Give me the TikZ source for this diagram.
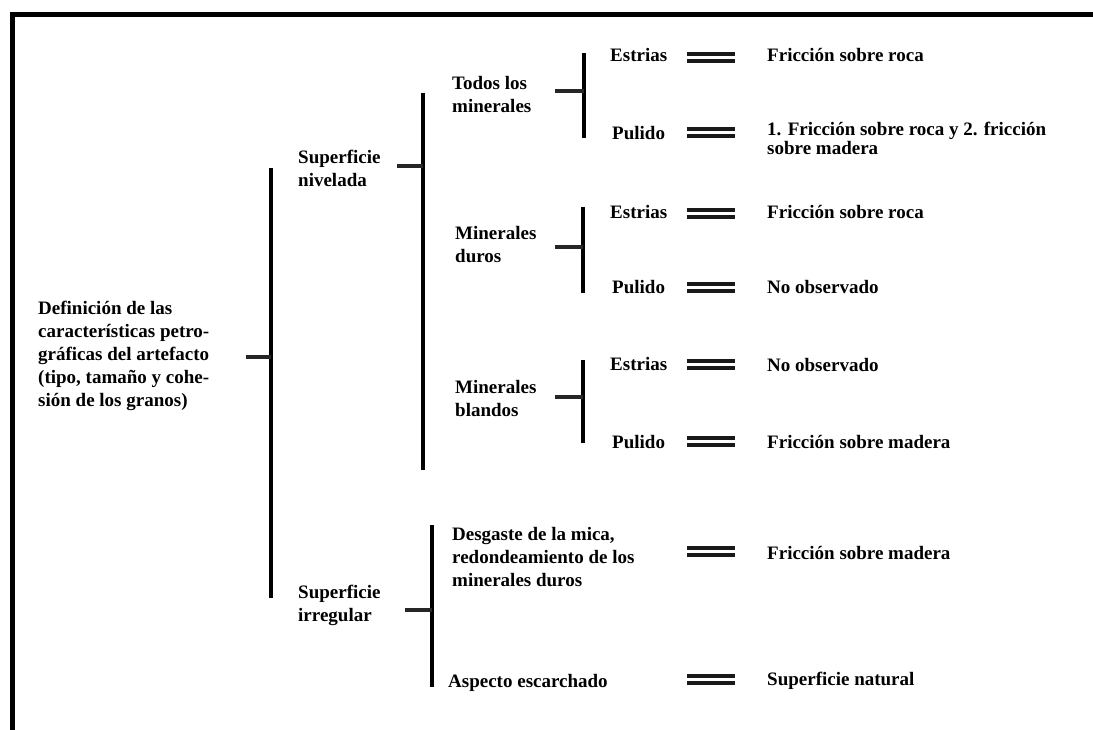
\documentclass[tikz,border=0pt]{standalone}
\usepackage{fontspec}
\setmainfont{Liberation Serif}
\begin{document}
\begin{tikzpicture}[x=1pt,y=-1pt,
  lbl/.style={anchor=west,inner sep=0pt,align=left,font=\fontsize{19}{23}\selectfont\bfseries},
  res/.style={anchor=west,inner sep=0pt,align=left,font=\fontsize{19}{19}\selectfont\bfseries},
  bar/.style={line width=4.5pt},
  stub/.style={line width=4pt,black!85},
  eqbar/.style={line width=4pt,double=white,double distance=3pt,black!90},
  frame/.style={line width=5pt}]
\useasboundingbox (0,0) rectangle (1093,730);
% frame
\coordinate (fbl) at (12,730);
\coordinate (ftl) at (12,15);
\coordinate (ftr) at (1093,15);
\draw[frame] (fbl) -- (ftl) -- (ftr);

% root
\node[lbl] (root) at (38,356) {Definición de las\\características petro-\\gráficas del artefacto\\(tipo, tamaño y cohe-\\sión de los granos)};
\coordinate (s1) at (246,357);
\coordinate (b1t) at (271,168);
\coordinate (b1b) at (271,598);
\draw[bar] (b1t) -- (b1b);
\draw[stub] (s1) -- (s1 -| b1t);

% level 1
\node[lbl] (sn) at (298,168) {Superficie\\nivelada};
\node[lbl] (si) at (298,605) {Superficie\\irregular};

\coordinate (s2) at (397,166);
\coordinate (b2t) at (423,93);
\coordinate (b2b) at (423,470);
\draw[bar] (b2t) -- (b2b);
\draw[stub] (s2) -- (s2 -| b2t);

\coordinate (s6) at (405,610);
\coordinate (b6t) at (432,525);
\coordinate (b6b) at (432,687);
\draw[bar] (b6t) -- (b6b);
\draw[stub] (s6) -- (s6 -| b6t);

% level 2
\node[lbl] (todos) at (452,95) {Todos los\\minerales};
\node[lbl] (md) at (455,245) {Minerales\\duros};
\node[lbl] (mb) at (455,399) {Minerales\\blandos};
\node[lbl] (desg) at (452,557) {Desgaste de la mica,\\redondeamiento de los\\minerales duros};
\node[lbl] (asp) at (448,683) {Aspecto escarchado};

\coordinate (s3) at (555,91);
\coordinate (b3t) at (584,53);
\coordinate (b3b) at (584,138);
\draw[bar] (b3t) -- (b3b);
\draw[stub] (s3) -- (s3 -| b3t);

\coordinate (s4) at (555,247);
\coordinate (b4t) at (583,207);
\coordinate (b4b) at (583,293);
\draw[bar] (b4t) -- (b4b);
\draw[stub] (s4) -- (s4 -| b4t);

\coordinate (s5) at (555,397);
\coordinate (b5t) at (583,360);
\coordinate (b5b) at (583,443);
\draw[bar] (b5t) -- (b5b);
\draw[stub] (s5) -- (s5 -| b5t);

% level 3
\node[lbl] (e1) at (610,55) {Estrias};
\node[lbl] (p1) at (612,133) {Pulido};
\node[lbl] (e2) at (610,212) {Estrias};
\node[lbl] (p2) at (612,287) {Pulido};
\node[lbl] (e3) at (610,364) {Estrias};
\node[lbl] (p3) at (612,442) {Pulido};

% results
\node[res] (r1) at (767,55) {Fricción sobre roca};
\node[res] (r2) at (767,138) {1. Fricción sobre roca y 2. fricción\\sobre madera};
\node[res] (r3) at (767,212) {Fricción sobre roca};
\node[res] (r4) at (767,287) {No observado};
\node[res] (r5) at (767,365) {No observado};
\node[res] (r6) at (767,442) {Fricción sobre madera};
\node[res] (r7) at (767,553) {Fricción sobre madera};
\node[res] (r8) at (767,681) {Superficie natural};

% equivalence bars
\foreach \n/\y in {1/57.5,2/133,3/213.5,4/288,5/364,6/441,7/551.5,8/679.5}{
  \coordinate (q\n a) at (687,\y);
  \coordinate (q\n b) at (735,\y);
  \draw[eqbar] (q\n a) -- (q\n b);
}
\end{tikzpicture}
\end{document}
